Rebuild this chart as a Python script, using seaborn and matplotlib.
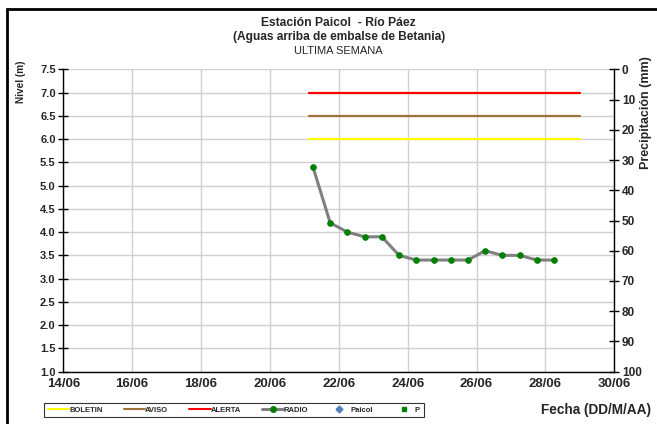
import matplotlib
matplotlib.use("Agg")
import matplotlib.pyplot as plt
import matplotlib.dates as mdates
from matplotlib.lines import Line2D
from matplotlib.patches import Rectangle
import seaborn as sns
import pandas as pd

sns.set_theme(style="white")
plt.rcParams['font.family'] = ['Liberation Sans', 'DejaVu Sans']

# ---- data ----
radio_times = pd.date_range("2011-06-21 06:00", periods=15, freq="12h")
radio_levels = [5.4, 4.2, 4.0, 3.9, 3.9, 3.5, 3.4, 3.4, 3.4, 3.4, 3.6, 3.5, 3.5, 3.4, 3.4]
threshold_times = pd.to_datetime(["2011-06-21 03:00", "2011-06-29 00:00"])
boletin_level = [6.0, 6.0]
aviso_level = [6.5, 6.5]
alerta_level = [7.0, 7.0]
x_ticks = pd.date_range("2011-06-14", "2011-06-30", freq="2D")
left_ticks = [1.0, 1.5, 2.0, 2.5, 3.0, 3.5, 4.0, 4.5, 5.0, 5.5, 6.0, 6.5, 7.0, 7.5]
right_ticks = [0, 10, 20, 30, 40, 50, 60, 70, 80, 90, 100]

radio_df = pd.DataFrame({"Fecha": radio_times, "Nivel": radio_levels})
thr_df = pd.DataFrame({
    "Fecha": list(threshold_times) * 3,
    "Nivel": boletin_level + aviso_level + alerta_level,
    "Serie": ["BOLETIN"] * 2 + ["AVISO"] * 2 + ["ALERTA"] * 2,
})

colors = {"BOLETIN": "#FFFF00", "AVISO": "#A0703C", "ALERTA": "#FF0000"}

fig = plt.figure(figsize=(6.57, 4.24), dpi=100)
ax = fig.add_axes([63.3 / 657, 1 - 371.7 / 424, (614.3 - 63.3) / 657, (371.7 - 69.3) / 424])

sns.lineplot(data=thr_df, x="Fecha", y="Nivel", hue="Serie", palette=colors,
             linewidth=1.6, legend=False, ax=ax, zorder=3)
sns.lineplot(data=radio_df, x="Fecha", y="Nivel", color="#808080", linewidth=2.2,
             marker="o", markersize=4, markerfacecolor="#008000", markeredgecolor="#008000",
             legend=False, ax=ax, zorder=4)

ax.set_xlim(pd.Timestamp("2011-06-14"), pd.Timestamp("2011-06-30"))
ax.set_ylim(1.0, 7.5)
ax.set_xticks(x_ticks)
ax.xaxis.set_major_formatter(mdates.DateFormatter("%d/%m"))
ax.set_yticks(left_ticks)
ax.set_yticklabels([f"{v:.1f}" for v in left_ticks])
ax.grid(True, color="#d0d0d0", linewidth=1.0)
ax.set_axisbelow(True)
for s in ["left", "bottom"]:
    ax.spines[s].set_color("black")
    ax.spines[s].set_linewidth(1.0)
ax.spines["top"].set_visible(False)
ax.spines["right"].set_visible(False)
ax.tick_params(axis="y", direction="inout", length=7, width=1, color="black",
               labelsize=8, pad=2)
ax.tick_params(axis="x", direction="inout", length=7, width=1, color="black",
               labelsize=9.5, pad=1)
for lab in ax.get_xticklabels() + ax.get_yticklabels():
    lab.set_fontweight("bold")
ax.set_xlabel("")
ax.set_ylabel("")

ax2 = ax.twinx()
ax2.set_ylim(100, 0)
ax2.set_yticks(right_ticks)
ax2.set_yticklabels([str(v) for v in right_ticks])
ax2.grid(False)
for s in ["top", "left", "bottom"]:
    ax2.spines[s].set_visible(False)
ax2.spines["right"].set_color("black")
ax2.spines["right"].set_linewidth(1.0)
ax2.tick_params(axis="y", direction="inout", length=7, width=1, color="black",
                labelsize=8.5, pad=2, right=True)
for lab in ax2.get_yticklabels():
    lab.set_fontweight("bold")
ax2.set_ylabel("")

# titles
cx = (63.3 + 614.3) / 2 / 657
fig.text(cx, 1 - 23 / 424, "Estación Paicol  - Río Páez", ha="center", va="center",
         fontsize=8.7, fontweight="bold")
fig.text(cx, 1 - 37 / 424, "(Aguas arriba de embalse de Betania)", ha="center", va="center",
         fontsize=8.6, fontweight="bold")
fig.text(cx, 1 - 50.5 / 424, "ULTIMA SEMANA", ha="center", va="center", fontsize=8)

fig.text(21 / 657, 1 - 82 / 424, "Nivel (m)", rotation=90, ha="center", va="center",
         fontsize=7.2, fontweight="bold")
fig.text(646 / 657, 1 - 113 / 424, "Precipitación (mm)", rotation=90, ha="center", va="center",
         fontsize=9, fontweight="bold")
fig.text(596 / 657, 1 - 410 / 424, "Fecha (DD/M/AA)", ha="center", va="center",
         fontsize=9.8, fontweight="bold")

# legend
handles = [
    Line2D([], [], color=colors["BOLETIN"], lw=1.5),
    Line2D([], [], color=colors["AVISO"], lw=1.5),
    Line2D([], [], color=colors["ALERTA"], lw=1.5),
    Line2D([], [], color="#808080", lw=2.2, marker="o", markersize=4,
           markerfacecolor="#008000", markeredgecolor="#008000"),
    Line2D([], [], color="none", marker="D", markersize=3.5,
           markerfacecolor="#4F81BD", markeredgecolor="#4F81BD"),
    Line2D([], [], color="none", marker="s", markersize=2.5,
           markerfacecolor="#008000", markeredgecolor="#008000"),
]
labels = ["BOLETIN", "AVISO", "ALERTA", "RADIO", "Paicol", "P"]
leg = fig.legend(handles, labels, loc="center", bbox_to_anchor=(234 / 657, 1 - 410 / 424),
                 ncol=6, frameon=True, fancybox=False, edgecolor="black",
                 prop={"size": 5.5, "weight": "bold"}, handlelength=2.8,
                 handletextpad=0.0, columnspacing=2.75, borderpad=0.45)
leg.get_frame().set_linewidth(0.8)

# outer border
fig.patches.append(Rectangle((7 / 657, -0.1), 1.2, 1 - 9 / 424 + 0.1,
                             transform=fig.transFigure, fill=False,
                             edgecolor="black", linewidth=2.0))

fig.savefig("out.png", dpi=100)
